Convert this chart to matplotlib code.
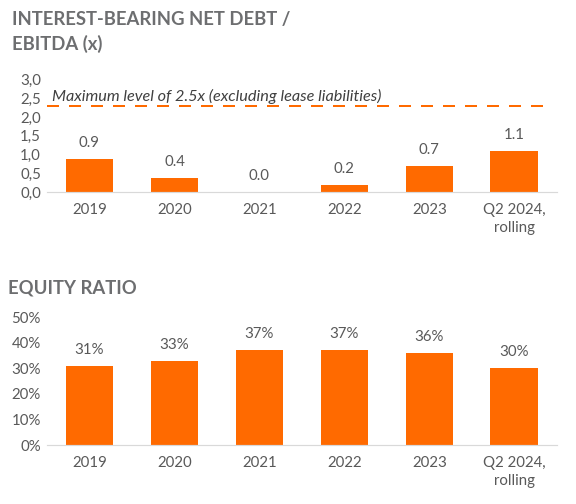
import matplotlib
matplotlib.use("Agg")
import matplotlib.pyplot as plt
from matplotlib.ticker import FuncFormatter

categories = ["2019", "2020", "2021", "2022", "2023", "Q2 2024,\nrolling"]
debt_ratio = [0.87, 0.37, 0.0, 0.19, 0.70, 1.10]
equity_ratio = [31, 33, 37, 37, 36, 30]
debt_limit = 2.3
debt_ticks = [0.0, 0.5, 1.0, 1.5, 2.0, 2.5, 3.0]
equity_ticks = [0, 10, 20, 30, 40, 50]
title_top = "INTEREST-BEARING NET DEBT /\nEBITDA (x)"
title_bottom = "EQUITY RATIO"
limit_text = "Maximum level of 2.5x (excluding lease liabilities)"

ORANGE = "#FF6A00"
GRAY = "#595959"
TITLE_GRAY = "#6D6E70"
plt.rcParams["font.family"] = ["Lato", "DejaVu Sans"]

fig = plt.figure(figsize=(8, 7), dpi=72)
ax1 = fig.add_axes([0.0816, 0.619, 0.885, 0.2232])
ax2 = fig.add_axes([0.0816, 0.117, 0.885, 0.254])

x = list(range(len(categories)))

def style(ax):
    for s in ["top", "right", "left"]:
        ax.spines[s].set_visible(False)
    ax.spines["bottom"].set_color("#D9D9D9")
    ax.spines["bottom"].set_linewidth(1.2)
    ax.tick_params(axis="both", length=0, colors=GRAY, labelsize=15)
    ax.tick_params(axis="x", pad=11)
    ax.tick_params(axis="y", pad=6)
    ax.set_xlim(-0.5, len(categories) - 0.5)
    ax.set_xticks(x)
    ax.set_xticklabels(categories, linespacing=1.35)

# Top chart
ax1.bar(x, debt_ratio, width=0.56, color=ORANGE)
ax1.set_ylim(0, 3.0)
ax1.set_yticks(debt_ticks)
ax1.yaxis.set_major_formatter(FuncFormatter(lambda v, p: f"{v:.1f}".replace(".", ",")))
style(ax1)
for xi, v in zip(x, debt_ratio):
    ax1.annotate(f"{v:.1f}", (xi, v), xytext=(0, 9), textcoords="offset points",
                 ha="center", va="bottom", fontsize=15, color=GRAY)
ax1.axhline(debt_limit, xmin=0, xmax=0.976, color=ORANGE, lw=2, dashes=(6, 5))
ax1.text(0.01, 2.56, limit_text, transform=ax1.get_yaxis_transform(),
         ha="left", va="center", fontsize=16.2, style="italic", color="#404040")

# Bottom chart
ax2.bar(x, equity_ratio, width=0.56, color=ORANGE)
ax2.set_ylim(0, 50)
ax2.set_yticks(equity_ticks)
ax2.yaxis.set_major_formatter(FuncFormatter(lambda v, p: f"{v:.0f}%"))
style(ax2)
for xi, v in zip(x, equity_ratio):
    ax2.annotate(f"{v}%", (xi, v), xytext=(0, 9), textcoords="offset points",
                 ha="center", va="bottom", fontsize=15, color=GRAY)

fig.text(12 / 576, 1 - 11 / 504, title_top, ha="left", va="top", fontsize=18.5,
         fontweight="bold", color=TITLE_GRAY, linespacing=1.45)
fig.text(8 / 576, 1 - 279 / 504, title_bottom, ha="left", va="top", fontsize=18.5,
         fontweight="bold", color=TITLE_GRAY)

fig.savefig("out.png", dpi=72)
